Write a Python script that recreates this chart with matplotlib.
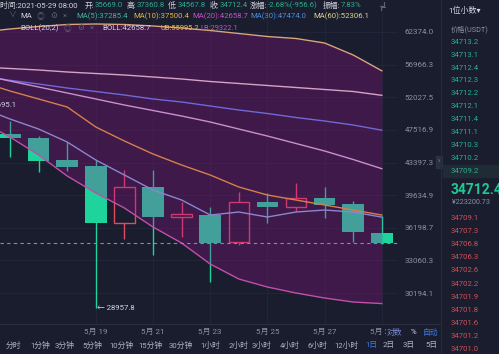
import matplotlib
matplotlib.use('Agg')
import matplotlib.pyplot as plt
from matplotlib.ticker import NullLocator, NullFormatter
from matplotlib.patches import Rectangle

plt.rcParams['font.family'] = ['Roboto', 'Noto Sans CJK SC', 'DejaVu Sans']

# daily candles 5/16 - 5/29
days = list(range(16, 30))
opens = [46976, 46496, 43665, 43015, 36714, 40507, 37269, 37508, 34797, 38886, 38381, 39284, 38639, 35669.0]
highs = [48695.1, 46700, 45978, 43700, 42500, 42500, 38918, 38381, 40016, 39840, 40958, 40580, 39000, 37360.8]
lows = [44104, 42302, 42420, 28957.8, 35057, 33561, 35310, 31160, 34507, 36652, 37926, 37165, 34825, 34567.8]
closes = [46496, 43577, 42894, 36714, 40507, 37269, 37580, 34729, 38886, 38381, 39284, 38566, 35747, 34712.4]

# indicator lines 5/15 - 5/29
line_days = list(range(15, 30))
ma5 = [50495, 48975, 47631, 45941, 43699, 41915, 40204, 39102, 37505, 37819, 37297, 37819, 38030, 37819, 37285.4]
ma10 = [54279, 52939, 51775, 50636, 47897, 46069, 44435, 43097, 41915, 40541, 39649, 39102, 38562, 38030, 37500.4]
ma20 = [55346, 54430, 53530, 52645, 51775, 50918, 50145, 49384, 48567, 47631, 46713, 45750, 44806, 43760, 42658.7]
ma30 = [55192, 54536, 53978, 53381, 52865, 52353, 51775, 51345, 50777, 50215, 49730, 49180, 48704, 48164, 47474.0]
ma60 = [56590, 56355, 56120, 55809, 55577, 55346, 55039, 54734, 54355, 54054, 53754, 53456, 53160, 52865, 52306.1]
ub = [62371, 62893, 63332, 63685, 63774, 63685, 63420, 63068, 62631, 62111, 61595, 61254, 60493, 58509, 55995.2]
lb = [48567, 46584, 44312, 41799, 39870, 38242, 36274, 34697, 32730, 31394, 30703, 30195, 29779, 29449, 29322.1]

price_ticks = [62374.0, 56966.3, 52027.5, 47516.9, 43397.3, 39634.9, 36198.7, 33060.3, 30194.1]
tick_days = [19, 21, 23, 25, 27, 29]
last_price = 34712.4
chart_high = 48695.1
chart_low = 28957.8

asks = ['34713.2', '34713.1', '34712.4', '34712.3', '34712.2', '34712.1',
        '34711.4', '34711.1', '34710.3', '34710.2', '34709.2']
bids = ['34709.1', '34707.3', '34706.8', '34706.3', '34702.6', '34702.2',
        '34701.9', '34701.8', '34701.6', '34701.2', '34701.0']
intervals = ['分时', '1分钟', '3分钟', '5分钟', '10分钟', '15分钟', '30分钟', '1小时', '2小时',
             '3小时', '4小时', '6小时', '12小时', '1日', '2日', '3日', '5日']
interval_x = [13, 40, 65, 92, 121, 150, 181, 210, 239, 262, 290, 317, 346, 371, 389, 409, 432]

BG = '#1a1d2d'
GREEN = '#1fd49c'
RED = '#e04a62'
GREY = '#8b90a0'
WHITE = '#d2d5de'
TEAL = '#2aae8c'
ICON = '#5d6273'

fig = plt.figure(figsize=(4.99, 3.54), dpi=100, facecolor=BG)
ax = fig.add_axes([0, 30 / 354, 398 / 499, 324 / 354], facecolor=BG)

x = [d - days[0] for d in days]
lx = [d - days[0] for d in line_days]

# candles (green = down filled, red = up hollow)
for xi, o, h, l, c in zip(x, opens, highs, lows, closes):
    top, bot = max(o, c), min(o, c)
    if c < o:
        ax.vlines(xi, l, h, color=GREEN, lw=1, zorder=2)
        ax.bar(xi, top - bot, bottom=bot, width=0.75, color=GREEN, zorder=2)
    else:
        ax.vlines(xi, top, h, color=RED, lw=1, zorder=2)
        ax.vlines(xi, l, bot, color=RED, lw=1, zorder=2)
        ax.bar(xi, top - bot, bottom=bot, width=0.72, facecolor='none',
               edgecolor=RED, lw=1, zorder=2)

# bollinger band shading over the candles
ax.fill_between(lx, lb, ub, color=(161 / 255, 16 / 255, 150 / 255), alpha=0.27, lw=0, zorder=3)

ax.plot(lx, ub, color='#d9a47c', lw=1, zorder=4)
ax.plot(lx, ma60, color='#d4a4c4', lw=1, zorder=4)
ax.plot(lx, ma30, color='#6f68d8', lw=1, zorder=4)
ax.plot(lx, ma20, color='#c98fd0', lw=1, zorder=4)
ax.plot(lx, ma10, color='#d6804a', lw=1, zorder=4)
ax.plot(lx, ma5, color='#8b86d0', lw=1, zorder=4)
ax.plot(lx, lb, color='#c050a8', lw=1, zorder=4)

ax.axhline(last_price, color='#4fa8b4', lw=0.8, ls=(0, (3, 3)), zorder=5)

ax.text(3.05, chart_low, '← %.1f' % chart_low, color=WHITE, fontsize=5.6,
        va='center', ha='left', zorder=6)
ax.text(0.25, 50918, '%.1f' % chart_high, color=WHITE, fontsize=5.6,
        va='center', ha='right', zorder=6, clip_on=True)

ax.set_yscale('log')
ax.set_ylim(27704, 68172)
ax.set_xlim(-0.35, 13.566)
ax.yaxis.tick_right()
ax.yaxis.set_minor_locator(NullLocator())
ax.yaxis.set_minor_formatter(NullFormatter())
ax.set_yticks(price_ticks)
ax.set_yticklabels(['%.1f' % p for p in price_ticks])
ax.set_xticks([d - days[0] for d in tick_days])
ax.set_xticklabels(['5月 %d' % d for d in tick_days])
ax.tick_params(axis='y', length=0, pad=5, labelsize=5.8, labelcolor=GREY)
ax.tick_params(axis='x', length=0, pad=3, labelsize=5.8, labelcolor=GREY)
ax.grid(True, color='#23273a', lw=0.6, zorder=0)
for s in ax.spines.values():
    s.set_visible(False)

# pixel overlay for header, order book and buttons
ov = fig.add_axes([0, 0, 1, 1], zorder=10)
ov.set_xlim(0, 499)
ov.set_ylim(354, 0)
ov.axis('off')
ov.patch.set_alpha(0)


def seg(x0, y0, parts, size=5.6):
    t = ov.text(x0, y0, parts[0][0], color=parts[0][1], fontsize=size, va='center', ha='left')
    for s, c in parts[1:]:
        t = ov.annotate(s, xy=(1, 0.5), xycoords=t, va='center', ha='left', color=c, fontsize=size)
    return t


seg(0, 5, [('时间:2021-05-29 08:00', WHITE)])
seg(85, 5, [('开:', WHITE), ('35669.0', TEAL)])
seg(127, 5, [('高:', WHITE), ('37360.8', TEAL)])
seg(168, 5, [('低:', WHITE), ('34567.8', TEAL)])
seg(210, 5, [('收:', WHITE), ('34712.4', TEAL)])
seg(250, 5, [('涨幅:', WHITE), ('-2.68%(-956.6)', TEAL)])
seg(323, 5, [('振幅:', WHITE), ('7.83%', TEAL)])

# small expand icon
ov.plot([384, 384, 380], [2, 6, 6], color=ICON, lw=0.8)
ov.plot([381, 381, 385], [10, 7, 7], color=ICON, lw=0.8)

seg(8, 16, [('∨', ICON)])
seg(20, 16, [('MA', WHITE)])
seg(37, 16, [('◎', ICON)])
seg(50, 16, [('⚙', ICON)])
seg(63, 16, [('×', ICON)])
seg(76, 16, [('MA(5):37285.4', '#3fb59c')])
seg(133, 16, [('MA(10):37500.4', '#e2b440')])
seg(192, 16, [('MA(20):42658.7', '#c551c8')])
seg(250, 16, [('MA(30):47474.0', '#4a8fe0')])
seg(313, 16, [('MA(60):52306.1', '#dcd68a')])

seg(20, 28, [('BOLL(20,2)', WHITE)])
seg(64, 28, [('◎', ICON)])
seg(77, 28, [('⚙', ICON)])
seg(90, 28, [('×', ICON)])
seg(102, 28, [('BOLL:42658.7', WHITE)])
seg(161, 28, [('UB:55995.2', '#e6c03c')], size=5.4)
seg(200, 28, [('LB:29322.1', '#c84fc8')], size=5.4)

# separators
ov.plot([0, 440], [324, 324], color='#2a2e40', lw=0.8)
ov.plot([441, 441], [0, 354], color='#262a3a', lw=0.8)
ov.add_patch(Rectangle((436, 156), 6, 12, color='#2c3142'))
ov.text(439, 162, '›', color=GREY, fontsize=5, ha='center', va='center')

# scale buttons
ov.text(394, 332, '对数', color='#7a8ad0', fontsize=5.6, ha='center', va='center',
        bbox=dict(facecolor=BG, edgecolor='none', pad=0.1))
ov.text(413, 332, '%', color=WHITE, fontsize=5.6, ha='center', va='center')
ov.text(431, 332, '自动', color='#3d7be0', fontsize=5.6, ha='center', va='center')

for lab, xx in zip(intervals, interval_x):
    ov.text(xx, 345, lab, color='#3d7be0' if lab == '1日' else '#b0b4c0',
            fontsize=5.6, ha='center', va='center')

# order book
ov.text(448, 10, '1位小数▾', color=WHITE, fontsize=5.8, ha='left', va='center')
ov.text(451, 29, '价格(USDT)', color=GREY, fontsize=5.2, ha='left', va='center')
ov.add_patch(Rectangle((443, 165), 56, 12, color='#1f2c36'))
for k, p in enumerate(asks):
    ov.text(451, 41.7 + 12.9 * k, p, color=TEAL, fontsize=5.6, ha='left', va='center')
ov.text(451, 190, '34712.4', color='#22c890', fontsize=10, fontweight='bold',
        ha='left', va='center')
ov.text(452, 203, '¥223200.73', color=GREY, fontsize=5.2, ha='left', va='center')
for k, p in enumerate(bids):
    ov.text(451, 218 + 13.1 * k, p, color='#cc5058', fontsize=5.6, ha='left', va='center')

fig.savefig('out.png', dpi=100, facecolor=BG)
